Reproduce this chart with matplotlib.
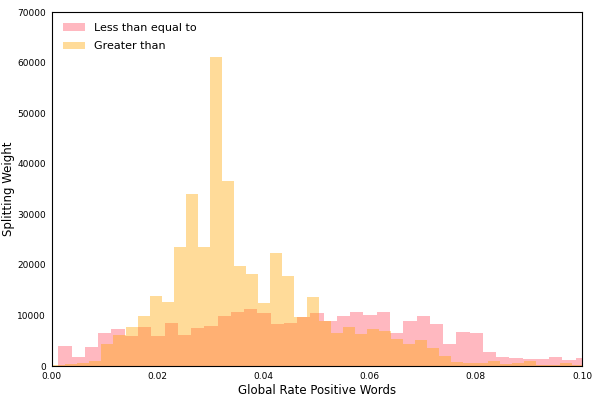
import numpy as np
import matplotlib
matplotlib.use("Agg")
import matplotlib.pyplot as plt

# bin layout of the two histograms
pink_start, pink_width = 0.0013, 0.0025
yellow_start, yellow_width = 0.0003, 0.002275

# splitting weight per bin, "Less than equal to"
less_equal = [4000, 1700, 3800, 6450, 7300, 5950, 7700, 5950, 8450, 6100,
              7450, 7950, 9900, 10750, 11300, 10400, 8250, 8450, 9750, 10550,
              8900, 9950, 10600, 10000, 10750, 6450, 8950, 9950, 8250, 4400,
              6800, 6450, 2850, 1700, 1650, 1350, 1400, 1750, 1200, 1500]

# splitting weight per bin, "Greater than"
greater = [100, 400, 650, 1000, 4400, 6100, 7800, 9900, 13850, 12700,
           23600, 33950, 23600, 61200, 36600, 19750, 18200, 12500, 22400, 17800,
           9600, 13700, 8900, 6450, 7800, 6350, 7250, 6900, 5350, 4350,
           5200, 3500, 2050, 750, 550, 650, 1000, 400, 650, 1000,
           200, 200, 550, 200]

pink_edges = pink_start + pink_width * np.arange(len(less_equal) + 1)
yellow_edges = yellow_start + yellow_width * np.arange(len(greater) + 1)

fig = plt.figure(figsize=(5.97, 3.99), dpi=100)
ax = fig.add_axes([0.0863, 0.0827, 0.8886, 0.8872])

ax.hist(pink_edges[:-1], bins=pink_edges, weights=less_equal,
        color="#ffb8c0", label="Less than equal to")
ax.hist(yellow_edges[:-1], bins=yellow_edges, weights=greater,
        color="orange", alpha=0.4, label="Greater than")

ax.set_xlim(0, 0.1)
ax.set_ylim(0, 70000)
ax.set_xticks(np.arange(0, 0.101, 0.02))
ax.set_yticks(np.arange(0, 70001, 10000))
ax.tick_params(length=0, pad=4, labelsize=6.5)
ax.set_xlabel("Global Rate Positive Words", fontsize=8.5)
ax.xaxis.set_label_coords(0.5, -0.052)
ax.set_ylabel("Splitting Weight", fontsize=8.5)
ax.yaxis.set_label_coords(-0.068, 0.5)
ax.legend(loc="upper left", frameon=False, fontsize=8,
          borderaxespad=0.6, labelspacing=0.75, handlelength=2.0)

fig.savefig("out.png", dpi=100)
